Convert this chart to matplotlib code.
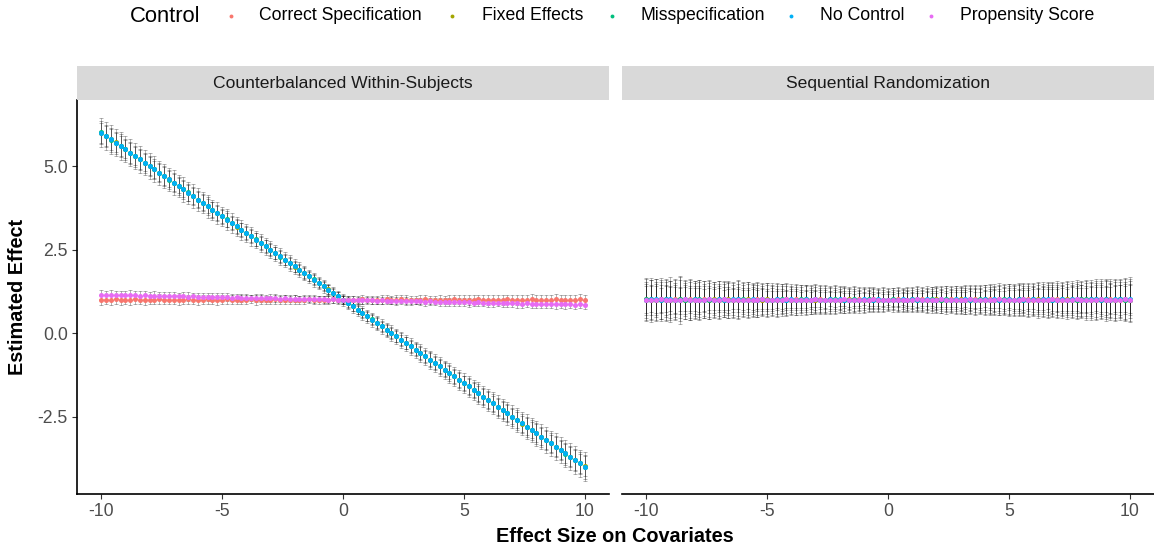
import matplotlib
matplotlib.use("Agg")
import matplotlib.pyplot as plt
from matplotlib.lines import Line2D
from matplotlib.patches import Rectangle

plt.rcParams['font.family'] = ['Liberation Sans', 'DejaVu Sans']

# ---------------- data ----------------
controls = ["Correct Specification", "Fixed Effects", "Misspecification", "No Control", "Propensity Score"]
colors = ["#F8766D", "#A3A500", "#00BF7D", "#00B0F6", "#E76BF3"]
panels = ["Counterbalanced Within-Subjects", "Sequential Randomization"]
x_ticks = [-10, -5, 0, 5, 10]
y_ticks = [-2.5, 0.0, 2.5, 5.0]
y_tick_labels = ["-2.5", "0.0", "2.5", "5.0"]

x_vals = [-10.0, -9.8, -9.6, -9.4, -9.2, -9.0, -8.8, -8.6, -8.4, -8.2,
          -8.0, -7.8, -7.6, -7.4, -7.2, -7.0, -6.8, -6.6, -6.4, -6.2,
          -6.0, -5.8, -5.6, -5.4, -5.2, -5.0, -4.8, -4.6, -4.4, -4.2,
          -4.0, -3.8, -3.6, -3.4, -3.2, -3.0, -2.8, -2.6, -2.4, -2.2,
          -2.0, -1.8, -1.6, -1.4, -1.2, -1.0, -0.8, -0.6, -0.4, -0.2,
          0.0,
          0.2, 0.4, 0.6, 0.8, 1.0, 1.2, 1.4, 1.6, 1.8, 2.0,
          2.2, 2.4, 2.6, 2.8, 3.0, 3.2, 3.4, 3.6, 3.8, 4.0,
          4.2, 4.4, 4.6, 4.8, 5.0, 5.2, 5.4, 5.6, 5.8, 6.0,
          6.2, 6.4, 6.6, 6.8, 7.0, 7.2, 7.4, 7.6, 7.8, 8.0,
          8.2, 8.4, 8.6, 8.8, 9.0, 9.2, 9.4, 9.6, 9.8, 10.0]

# Counterbalanced Within-Subjects panel
cw_nocontrol_est = [6.0, 5.9, 5.8, 5.7, 5.6, 5.5, 5.4, 5.3, 5.2, 5.1,
                    5.0, 4.9, 4.8, 4.7, 4.6, 4.5, 4.4, 4.3, 4.2, 4.1,
                    4.0, 3.9, 3.8, 3.7, 3.6, 3.5, 3.4, 3.3, 3.2, 3.1,
                    3.0, 2.9, 2.8, 2.7, 2.6, 2.5, 2.4, 2.3, 2.2, 2.1,
                    2.0, 1.9, 1.8, 1.7, 1.6, 1.5, 1.4, 1.3, 1.2, 1.1,
                    1.0,
                    0.9, 0.8, 0.7, 0.6, 0.5, 0.4, 0.3, 0.2, 0.1, 0.0,
                    -0.1, -0.2, -0.3, -0.4, -0.5, -0.6, -0.7, -0.8, -0.9, -1.0,
                    -1.1, -1.2, -1.3, -1.4, -1.5, -1.6, -1.7, -1.8, -1.9, -2.0,
                    -2.1, -2.2, -2.3, -2.4, -2.5, -2.6, -2.7, -2.8, -2.9, -3.0,
                    -3.1, -3.2, -3.3, -3.4, -3.5, -3.6, -3.7, -3.8, -3.9, -4.0]
cw_misspec_est = [6.01, 5.9, 5.79, 5.7, 5.61, 5.5, 5.4, 5.29, 5.2, 5.1,
                  5.0, 4.91, 4.8, 4.7, 4.59, 4.5, 4.4, 4.3, 4.21, 4.1,
                  4.0, 3.9, 3.8, 3.69, 3.6, 3.5, 3.41, 3.3, 3.2, 3.1,
                  3.0, 2.9, 2.81, 2.7, 2.6, 2.5, 2.4, 2.29, 2.2, 2.1,
                  2.0, 1.9, 1.8, 1.7, 1.61, 1.5, 1.4, 1.3, 1.2, 1.1,
                  1.0,
                  0.9, 0.8, 0.7, 0.6, 0.5, 0.41, 0.3, 0.2, 0.1, 0.0,
                  -0.1, -0.2, -0.31, -0.4, -0.5, -0.6, -0.7, -0.8, -0.9, -1.0,
                  -1.1, -1.2, -1.3, -1.4, -1.51, -1.6, -1.7, -1.8, -1.9, -2.0,
                  -2.1, -2.2, -2.3, -2.39, -2.5, -2.6, -2.7, -2.8, -2.9, -3.0,
                  -3.1, -3.2, -3.3, -3.4, -3.5, -3.61, -3.7, -3.8, -3.9, -4.01]
cw_fixed_est = [5.99, 5.9, 5.8, 5.71, 5.6, 5.5, 5.39, 5.3, 5.2, 5.1,
                5.01, 4.9, 4.8, 4.7, 4.6, 4.5, 4.41, 4.3, 4.2, 4.1,
                4.0, 3.91, 3.8, 3.7, 3.6, 3.5, 3.4, 3.3, 3.19, 3.1,
                3.0, 2.9, 2.8, 2.7, 2.61, 2.5, 2.4, 2.3, 2.2, 2.1,
                1.99, 1.9, 1.8, 1.7, 1.6, 1.5, 1.4, 1.31, 1.2, 1.1,
                1.0,
                0.9, 0.8, 0.7, 0.61, 0.5, 0.4, 0.3, 0.2, 0.1, 0.0,
                -0.1, -0.2, -0.3, -0.4, -0.5, -0.61, -0.7, -0.8, -0.9, -1.0,
                -1.1, -1.19, -1.3, -1.4, -1.5, -1.6, -1.7, -1.8, -1.9, -2.0,
                -2.1, -2.2, -2.3, -2.4, -2.5, -2.6, -2.71, -2.8, -2.9, -3.0,
                -3.1, -3.2, -3.3, -3.4, -3.5, -3.6, -3.7, -3.8, -3.9, -3.99]
cw_correct_est = [0.99, 1.00, 0.99, 1.01, 1.00, 0.99, 1.00, 1.01, 0.99, 1.00,
                  1.00, 0.99, 1.01, 1.00, 0.99, 1.00, 1.00, 0.99, 1.01, 1.00,
                  0.99, 1.00, 1.01, 1.00, 0.99, 1.00, 1.01, 1.00, 0.99, 1.00,
                  1.00, 1.01, 0.99, 1.00, 1.00, 0.99, 1.01, 1.00, 1.00, 0.99,
                  1.00, 1.00, 0.99, 1.01, 1.00, 1.00, 0.99, 1.00, 1.01, 1.00,
                  1.00,
                  1.00, 0.99, 1.00, 1.01, 1.00, 0.99, 1.00, 1.00, 1.01, 0.99,
                  1.00, 1.01, 1.00, 0.99, 1.00, 1.00, 1.01, 0.99, 1.00, 1.00,
                  0.99, 1.00, 1.01, 1.00, 1.00, 0.99, 1.00, 1.01, 1.00, 0.99,
                  1.00, 1.00, 0.99, 1.01, 1.00, 1.00, 0.99, 1.00, 1.01, 1.00,
                  0.99, 1.00, 1.00, 1.01, 0.99, 1.00, 1.00, 0.99, 1.01, 1.00]
cw_propensity_est = [1.15, 1.15, 1.14, 1.14, 1.15, 1.13, 1.14, 1.13, 1.12, 1.13,
                     1.12, 1.12, 1.11, 1.12, 1.10, 1.11, 1.10, 1.10, 1.09, 1.10,
                     1.09, 1.09, 1.08, 1.08, 1.07, 1.08, 1.07, 1.06, 1.07, 1.06,
                     1.06, 1.05, 1.06, 1.05, 1.04, 1.05, 1.04, 1.03, 1.04, 1.03,
                     1.03, 1.02, 1.03, 1.02, 1.01, 1.02, 1.01, 1.00, 1.01, 1.00,
                     1.00,
                     1.00, 0.99, 0.99, 0.98, 0.99, 0.98, 0.97, 0.98, 0.97, 0.97,
                     0.96, 0.97, 0.96, 0.95, 0.96, 0.95, 0.94, 0.95, 0.94, 0.94,
                     0.93, 0.94, 0.93, 0.92, 0.93, 0.92, 0.91, 0.92, 0.91, 0.91,
                     0.90, 0.91, 0.90, 0.89, 0.90, 0.89, 0.88, 0.89, 0.88, 0.88,
                     0.87, 0.88, 0.87, 0.86, 0.87, 0.86, 0.86, 0.85, 0.86, 0.85]

cw_nocontrol_err = [0.44, 0.41, 0.43, 0.40, 0.42, 0.39, 0.41, 0.38, 0.40, 0.37,
                    0.38, 0.39, 0.36, 0.37, 0.35, 0.37, 0.34, 0.36, 0.33, 0.35,
                    0.33, 0.31, 0.34, 0.30, 0.32, 0.29, 0.31, 0.30, 0.28, 0.30,
                    0.27, 0.28, 0.26, 0.27, 0.25, 0.26, 0.24, 0.25, 0.23, 0.24,
                    0.22, 0.23, 0.21, 0.20, 0.21, 0.19, 0.20, 0.18, 0.19, 0.17,
                    0.18,
                    0.18, 0.19, 0.18, 0.20, 0.19, 0.21, 0.20, 0.22, 0.21, 0.23,
                    0.22, 0.24, 0.23, 0.25, 0.24, 0.26, 0.25, 0.27, 0.26, 0.28,
                    0.27, 0.29, 0.28, 0.30, 0.29, 0.31, 0.30, 0.32, 0.31, 0.33,
                    0.32, 0.34, 0.33, 0.35, 0.34, 0.36, 0.35, 0.37, 0.36, 0.38,
                    0.37, 0.39, 0.38, 0.40, 0.39, 0.41, 0.40, 0.42, 0.41, 0.43]
cw_misspec_err = [0.35, 0.34, 0.36, 0.33, 0.34, 0.32, 0.33, 0.31, 0.32, 0.30,
                  0.31, 0.30, 0.29, 0.30, 0.28, 0.29, 0.27, 0.28, 0.26, 0.27,
                  0.26, 0.25, 0.26, 0.24, 0.25, 0.23, 0.24, 0.22, 0.23, 0.21,
                  0.22, 0.21, 0.20, 0.21, 0.19, 0.20, 0.18, 0.19, 0.17, 0.18,
                  0.17, 0.16, 0.17, 0.15, 0.16, 0.14, 0.15, 0.14, 0.15, 0.13,
                  0.14,
                  0.14, 0.15, 0.14, 0.16, 0.15, 0.16, 0.17, 0.16, 0.18, 0.17,
                  0.18, 0.19, 0.18, 0.20, 0.19, 0.21, 0.20, 0.22, 0.21, 0.22,
                  0.22, 0.23, 0.22, 0.24, 0.23, 0.25, 0.24, 0.26, 0.25, 0.27,
                  0.26, 0.27, 0.26, 0.28, 0.27, 0.29, 0.28, 0.30, 0.29, 0.31,
                  0.30, 0.31, 0.30, 0.32, 0.31, 0.33, 0.32, 0.34, 0.33, 0.35]
cw_fixed_err = [0.30, 0.29, 0.31, 0.28, 0.30, 0.27, 0.29, 0.27, 0.28, 0.26,
                0.27, 0.26, 0.25, 0.26, 0.24, 0.25, 0.23, 0.24, 0.23, 0.24,
                0.22, 0.23, 0.21, 0.22, 0.21, 0.20, 0.21, 0.19, 0.20, 0.19,
                0.19, 0.18, 0.19, 0.17, 0.18, 0.16, 0.17, 0.16, 0.15, 0.16,
                0.15, 0.14, 0.15, 0.13, 0.14, 0.13, 0.12, 0.13, 0.12, 0.12,
                0.12,
                0.12, 0.13, 0.12, 0.14, 0.13, 0.14, 0.15, 0.14, 0.15, 0.15,
                0.16, 0.15, 0.17, 0.16, 0.17, 0.18, 0.17, 0.19, 0.18, 0.19,
                0.19, 0.20, 0.19, 0.21, 0.20, 0.22, 0.21, 0.22, 0.21, 0.23,
                0.22, 0.24, 0.23, 0.24, 0.23, 0.25, 0.24, 0.26, 0.25, 0.27,
                0.26, 0.27, 0.26, 0.28, 0.27, 0.29, 0.28, 0.29, 0.28, 0.30]
cw_correct_err = [0.15, 0.14, 0.16, 0.14, 0.15, 0.13, 0.15, 0.14, 0.13, 0.15,
                  0.14, 0.13, 0.15, 0.14, 0.13, 0.14, 0.15, 0.13, 0.14, 0.13,
                  0.14, 0.13, 0.14, 0.12, 0.14, 0.13, 0.14, 0.13, 0.12, 0.14,
                  0.13, 0.12, 0.14, 0.13, 0.12, 0.13, 0.14, 0.12, 0.13, 0.12,
                  0.13, 0.12, 0.13, 0.12, 0.13, 0.12, 0.12, 0.13, 0.12, 0.12,
                  0.12,
                  0.12, 0.13, 0.12, 0.13, 0.12, 0.13, 0.12, 0.13, 0.12, 0.13,
                  0.13, 0.12, 0.14, 0.13, 0.12, 0.13, 0.14, 0.13, 0.12, 0.14,
                  0.13, 0.14, 0.13, 0.14, 0.13, 0.15, 0.13, 0.14, 0.13, 0.14,
                  0.14, 0.13, 0.15, 0.14, 0.13, 0.15, 0.14, 0.13, 0.15, 0.14,
                  0.15, 0.14, 0.13, 0.15, 0.14, 0.15, 0.13, 0.14, 0.15, 0.14]
cw_propensity_err = [0.13, 0.12, 0.14, 0.13, 0.12, 0.13, 0.14, 0.12, 0.13, 0.12,
                     0.12, 0.13, 0.12, 0.11, 0.13, 0.12, 0.11, 0.12, 0.13, 0.11,
                     0.12, 0.11, 0.12, 0.11, 0.12, 0.11, 0.12, 0.11, 0.10, 0.12,
                     0.11, 0.10, 0.12, 0.11, 0.10, 0.11, 0.12, 0.10, 0.11, 0.10,
                     0.11, 0.10, 0.11, 0.10, 0.11, 0.10, 0.10, 0.11, 0.10, 0.10,
                     0.10,
                     0.10, 0.11, 0.10, 0.11, 0.10, 0.11, 0.10, 0.11, 0.10, 0.11,
                     0.11, 0.10, 0.12, 0.11, 0.10, 0.11, 0.12, 0.11, 0.10, 0.12,
                     0.11, 0.12, 0.11, 0.12, 0.11, 0.13, 0.11, 0.12, 0.11, 0.12,
                     0.12, 0.11, 0.13, 0.12, 0.11, 0.13, 0.12, 0.11, 0.13, 0.12,
                     0.13, 0.12, 0.11, 0.13, 0.12, 0.13, 0.12, 0.13, 0.12, 0.13]

# Sequential Randomization panel
sr_correct_est = [1.01, 0.99, 1.00, 1.02, 0.99, 1.00, 1.01, 0.98, 1.00, 1.01,
                  0.99, 1.00, 1.01, 1.00, 0.99, 1.01, 1.00, 0.99, 1.00, 1.01,
                  1.00, 0.99, 1.00, 1.01, 1.00, 0.99, 1.00, 1.01, 1.00, 0.99,
                  1.00, 1.01, 1.00, 0.99, 1.00, 1.00, 1.01, 1.00, 0.99, 1.00,
                  1.00, 1.00, 0.99, 1.00, 1.01, 1.00, 1.00, 0.99, 1.00, 1.00,
                  1.00,
                  1.00, 1.01, 1.00, 1.00, 0.99, 1.00, 1.01, 1.00, 1.00, 0.99,
                  1.00, 1.00, 1.01, 1.00, 0.99, 1.00, 1.00, 1.01, 1.00, 0.99,
                  1.01, 1.00, 0.99, 1.00, 1.01, 1.00, 0.99, 1.00, 1.01, 1.00,
                  0.99, 1.01, 1.00, 0.99, 1.01, 1.00, 0.99, 1.01, 1.00, 1.02,
                  1.00, 0.99, 1.01, 1.00, 0.98, 1.01, 1.00, 0.99, 1.02, 1.00]
sr_fixed_est = [0.99, 1.01, 1.00, 0.98, 1.01, 1.00, 0.99, 1.02, 1.00, 0.99,
                1.01, 1.00, 0.99, 1.00, 1.01, 0.99, 1.00, 1.01, 1.00, 0.99,
                1.00, 1.01, 1.00, 0.99, 1.00, 1.01, 1.00, 0.99, 1.00, 1.01,
                1.00, 0.99, 1.00, 1.01, 1.00, 1.00, 0.99, 1.00, 1.01, 1.00,
                1.00, 1.00, 1.01, 1.00, 0.99, 1.00, 1.00, 1.01, 1.00, 1.00,
                1.00,
                1.00, 0.99, 1.00, 1.00, 1.01, 1.00, 0.99, 1.00, 1.00, 1.01,
                1.00, 1.00, 0.99, 1.00, 1.01, 1.00, 1.00, 0.99, 1.00, 1.01,
                0.99, 1.00, 1.01, 1.00, 0.99, 1.00, 1.01, 1.00, 0.99, 1.00,
                1.01, 0.99, 1.00, 1.01, 0.99, 1.00, 1.01, 0.99, 1.00, 0.98,
                1.00, 1.01, 0.99, 1.00, 1.02, 0.99, 1.00, 1.01, 0.98, 1.00]
sr_misspec_est = [1.02, 1.00, 0.99, 1.01, 1.00, 0.98, 1.00, 1.01, 0.99, 1.00,
                  1.00, 1.01, 1.00, 0.99, 1.00, 1.00, 1.01, 1.00, 0.99, 1.00,
                  1.01, 1.00, 0.99, 1.00, 1.01, 1.00, 0.99, 1.00, 1.01, 1.00,
                  0.99, 1.00, 1.01, 1.00, 0.99, 1.01, 1.00, 1.00, 1.00, 1.01,
                  1.00, 0.99, 1.00, 1.01, 1.00, 1.00, 1.01, 1.00, 0.99, 1.00,
                  1.00,
                  1.01, 1.00, 0.99, 1.00, 1.00, 1.01, 1.00, 0.99, 1.01, 1.00,
                  0.99, 1.01, 1.00, 1.00, 1.00, 0.99, 1.01, 1.00, 1.01, 1.00,
                  1.00, 0.99, 1.00, 1.01, 1.00, 0.99, 1.00, 1.01, 1.00, 1.01,
                  1.00, 1.00, 0.99, 1.00, 1.00, 1.01, 1.00, 1.00, 0.99, 1.01,
                  1.01, 1.00, 0.99, 1.01, 1.00, 1.00, 0.99, 1.01, 1.00, 0.99]
sr_nocontrol_est = [1.00, 1.02, 1.01, 0.99, 1.01, 1.02, 0.99, 1.00, 1.02, 1.00,
                    1.01, 0.99, 1.00, 1.02, 1.00, 1.01, 0.99, 1.00, 1.01, 1.02,
                    0.99, 1.00, 1.01, 1.00, 1.02, 1.00, 0.99, 1.01, 1.00, 1.00,
                    1.01, 1.00, 0.99, 1.01, 1.00, 1.01, 1.00, 0.99, 1.01, 1.00,
                    1.01, 1.00, 1.00, 0.99, 1.00, 1.01, 1.00, 1.00, 1.01, 0.99,
                    1.00,
                    0.99, 1.00, 1.01, 1.00, 1.01, 0.99, 1.00, 1.01, 1.00, 1.00,
                    1.01, 1.00, 1.00, 1.01, 0.99, 1.01, 1.00, 1.00, 0.99, 1.01,
                    1.00, 1.01, 1.00, 0.99, 1.01, 1.00, 1.01, 0.99, 1.00, 1.01,
                    1.00, 1.01, 1.02, 1.00, 0.99, 1.01, 1.00, 1.02, 1.01, 1.00,
                    0.99, 1.01, 1.02, 1.00, 1.01, 0.99, 1.02, 1.03, 1.01, 1.02]
sr_propensity_est = [1.00, 0.99, 1.00, 1.01, 0.99, 1.00, 1.00, 0.99, 1.01, 1.00,
                     0.99, 1.00, 1.00, 1.01, 0.99, 1.00, 1.01, 1.00, 0.99, 1.00,
                     1.00, 1.00, 0.99, 1.00, 1.01, 1.00, 1.00, 0.99, 1.00, 1.01,
                     1.00, 1.00, 1.00, 0.99, 1.00, 1.01, 1.00, 1.00, 0.99, 1.00,
                     1.00, 1.01, 1.00, 1.00, 0.99, 1.00, 1.00, 1.01, 1.00, 1.00,
                     1.00,
                     1.00, 1.00, 0.99, 1.00, 1.00, 1.01, 1.00, 1.00, 0.99, 1.00,
                     1.01, 1.00, 1.00, 0.99, 1.00, 1.00, 1.01, 1.00, 1.00, 0.99,
                     1.00, 1.00, 1.01, 1.00, 0.99, 1.00, 1.00, 1.01, 1.00, 1.00,
                     0.99, 1.00, 1.00, 1.01, 1.00, 0.99, 1.00, 1.00, 1.01, 1.00,
                     1.00, 0.99, 1.00, 1.01, 1.00, 1.00, 0.99, 1.00, 1.01, 1.00]

sr_correct_err = [0.46, 0.44, 0.47, 0.43, 0.45, 0.42, 0.44, 0.41, 0.43, 0.40,
                  0.41, 0.42, 0.39, 0.40, 0.38, 0.39, 0.37, 0.38, 0.36, 0.37,
                  0.36, 0.35, 0.37, 0.34, 0.35, 0.33, 0.34, 0.32, 0.33, 0.31,
                  0.32, 0.31, 0.30, 0.31, 0.29, 0.30, 0.28, 0.29, 0.27, 0.28,
                  0.27, 0.26, 0.27, 0.25, 0.26, 0.24, 0.25, 0.23, 0.24, 0.23,
                  0.22,
                  0.23, 0.24, 0.23, 0.25, 0.24, 0.26, 0.25, 0.27, 0.26, 0.27,
                  0.28, 0.27, 0.29, 0.28, 0.30, 0.29, 0.31, 0.30, 0.32, 0.31,
                  0.32, 0.33, 0.32, 0.34, 0.33, 0.35, 0.34, 0.36, 0.35, 0.37,
                  0.36, 0.38, 0.37, 0.39, 0.38, 0.40, 0.39, 0.41, 0.40, 0.42,
                  0.41, 0.43, 0.42, 0.44, 0.43, 0.45, 0.44, 0.46, 0.45, 0.47]
sr_fixed_err = [0.55, 0.58, 0.53, 0.56, 0.52, 0.55, 0.51, 0.57, 0.50, 0.53,
                0.50, 0.52, 0.48, 0.51, 0.47, 0.49, 0.46, 0.48, 0.45, 0.47,
                0.44, 0.46, 0.43, 0.45, 0.42, 0.43, 0.41, 0.42, 0.40, 0.41,
                0.38, 0.40, 0.37, 0.39, 0.36, 0.37, 0.35, 0.36, 0.34, 0.35,
                0.32, 0.34, 0.31, 0.33, 0.30, 0.31, 0.29, 0.30, 0.28, 0.29,
                0.27,
                0.28, 0.29, 0.28, 0.30, 0.29, 0.31, 0.30, 0.32, 0.31, 0.33,
                0.33, 0.34, 0.33, 0.35, 0.34, 0.36, 0.35, 0.37, 0.36, 0.38,
                0.39, 0.38, 0.40, 0.39, 0.41, 0.40, 0.42, 0.41, 0.43, 0.42,
                0.44, 0.43, 0.45, 0.44, 0.46, 0.45, 0.47, 0.46, 0.48, 0.47,
                0.50, 0.49, 0.51, 0.50, 0.53, 0.51, 0.54, 0.52, 0.55, 0.56]
sr_misspec_err = [0.62, 0.60, 0.64, 0.59, 0.63, 0.58, 0.61, 0.66, 0.57, 0.60,
                  0.56, 0.58, 0.55, 0.57, 0.53, 0.55, 0.52, 0.54, 0.51, 0.58,
                  0.50, 0.52, 0.49, 0.51, 0.47, 0.49, 0.46, 0.48, 0.45, 0.47,
                  0.43, 0.45, 0.42, 0.44, 0.41, 0.42, 0.40, 0.41, 0.39, 0.40,
                  0.37, 0.38, 0.36, 0.37, 0.35, 0.36, 0.34, 0.35, 0.33, 0.34,
                  0.32,
                  0.33, 0.34, 0.33, 0.35, 0.34, 0.36, 0.35, 0.37, 0.36, 0.38,
                  0.38, 0.39, 0.38, 0.40, 0.39, 0.41, 0.40, 0.42, 0.41, 0.43,
                  0.44, 0.43, 0.45, 0.44, 0.46, 0.45, 0.47, 0.46, 0.48, 0.47,
                  0.49, 0.48, 0.50, 0.49, 0.51, 0.50, 0.52, 0.51, 0.53, 0.52,
                  0.55, 0.54, 0.56, 0.55, 0.58, 0.56, 0.60, 0.57, 0.61, 0.62]
sr_nocontrol_err = [0.40, 0.38, 0.41, 0.37, 0.39, 0.36, 0.38, 0.35, 0.37, 0.34,
                    0.35, 0.36, 0.33, 0.34, 0.32, 0.33, 0.31, 0.32, 0.30, 0.31,
                    0.30, 0.29, 0.31, 0.28, 0.29, 0.27, 0.28, 0.26, 0.27, 0.25,
                    0.26, 0.25, 0.24, 0.25, 0.23, 0.24, 0.22, 0.23, 0.21, 0.22,
                    0.21, 0.20, 0.21, 0.19, 0.20, 0.18, 0.19, 0.18, 0.19, 0.17,
                    0.17,
                    0.18, 0.19, 0.18, 0.20, 0.19, 0.20, 0.19, 0.21, 0.20, 0.21,
                    0.22, 0.21, 0.23, 0.22, 0.24, 0.23, 0.25, 0.24, 0.25, 0.24,
                    0.26, 0.27, 0.26, 0.28, 0.27, 0.29, 0.28, 0.30, 0.29, 0.30,
                    0.31, 0.32, 0.31, 0.33, 0.32, 0.34, 0.33, 0.35, 0.34, 0.36,
                    0.36, 0.37, 0.36, 0.38, 0.37, 0.39, 0.38, 0.40, 0.39, 0.41]
sr_propensity_err = [0.63, 0.66, 0.61, 0.65, 0.60, 0.68, 0.59, 0.72, 0.58, 0.62,
                     0.58, 0.60, 0.56, 0.59, 0.55, 0.57, 0.54, 0.56, 0.53, 0.55,
                     0.52, 0.54, 0.51, 0.53, 0.50, 0.51, 0.49, 0.50, 0.48, 0.49,
                     0.46, 0.47, 0.45, 0.46, 0.44, 0.45, 0.43, 0.44, 0.42, 0.43,
                     0.40, 0.41, 0.39, 0.40, 0.38, 0.39, 0.37, 0.38, 0.36, 0.37,
                     0.35,
                     0.36, 0.37, 0.36, 0.38, 0.37, 0.39, 0.38, 0.40, 0.39, 0.41,
                     0.41, 0.42, 0.41, 0.43, 0.42, 0.44, 0.43, 0.45, 0.44, 0.46,
                     0.47, 0.46, 0.48, 0.47, 0.49, 0.48, 0.50, 0.49, 0.51, 0.50,
                     0.53, 0.52, 0.54, 0.53, 0.55, 0.54, 0.57, 0.55, 0.58, 0.56,
                     0.60, 0.59, 0.61, 0.60, 0.63, 0.61, 0.64, 0.62, 0.65, 0.67]

cw_series = [(cw_correct_est, cw_correct_err), (cw_fixed_est, cw_fixed_err),
             (cw_misspec_est, cw_misspec_err), (cw_nocontrol_est, cw_nocontrol_err),
             (cw_propensity_est, cw_propensity_err)]
sr_series = [(sr_correct_est, sr_correct_err), (sr_fixed_est, sr_fixed_err),
             (sr_misspec_est, sr_misspec_err), (sr_nocontrol_est, sr_nocontrol_err),
             (sr_propensity_est, sr_propensity_err)]

# ---------------- figure ----------------
W, H = 1154, 548
fig = plt.figure(figsize=(W / 100, H / 100), dpi=100)
fig.patch.set_facecolor("white")


def rect(l, t, r, b):
    return [l / W, 1 - b / H, (r - l) / W, (b - t) / H]


ax1 = fig.add_axes(rect(77, 100, 609, 494))
ax2 = fig.add_axes(rect(622, 100, 1154, 494), sharey=ax1)

TICK_GRAY = "#4D4D4D"
for ax, series, title, (sl, sr_) in [(ax1, cw_series, panels[0], (77, 609)),
                                     (ax2, sr_series, panels[1], (622, 1154))]:
    for est, err in series:
        ax.errorbar(x_vals, est, yerr=err, fmt="none", ecolor=(0, 0, 0, 0.38),
                    elinewidth=0.55, capsize=1.1, capthick=0.55, zorder=2)
    for (est, err), c in zip(series, colors):
        ax.scatter(x_vals, est, s=13, color=c, linewidths=0, zorder=3)
    ax.set_xlim(-11, 11)
    ax.set_ylim(-4.82, 6.98)
    ax.set_xticks(x_ticks)
    ax.set_xticklabels([str(t) for t in x_ticks])
    for s in ["top", "right"]:
        ax.spines[s].set_visible(False)
    ax.spines["bottom"].set_linewidth(1.2)
    ax.spines["left"].set_linewidth(1.2)
    ax.tick_params(axis="both", colors="#333333", labelcolor=TICK_GRAY,
                   labelsize=12.7, length=3.5, width=0.8, pad=3)
    ax.set_facecolor("white")
    # strip
    fig.patches.append(Rectangle((sl / W, 1 - 100 / H), (sr_ - sl) / W, 34 / H,
                                 transform=fig.transFigure, facecolor="#D9D9D9",
                                 edgecolor="none", zorder=0))
    fig.text((sl + sr_) / 2 / W, 1 - 83 / H, title, ha="center", va="center",
             fontsize=12.6, color="#1A1A1A")

ax1.set_yticks(y_ticks)
ax1.set_yticklabels(y_tick_labels)
ax2.spines["left"].set_visible(False)
ax2.tick_params(axis="y", left=False, labelleft=False)

fig.text(615 / W, 1 - 537 / H, "Effect Size on Covariates", ha="center", va="center",
         fontsize=14.3, fontweight="bold", color="black")
fig.text(18 / W, 1 - 297 / H, "Estimated Effect", ha="center", va="center",
         rotation=90, fontsize=14.3, fontweight="bold", color="black")

# legend
ly = 1 - 16 / H
fig.text(130 / W, ly, "Control", ha="left", va="center", fontsize=15.8, color="black")
dot_x = [231, 452, 612, 791, 931]
txt_x = [259, 482, 641, 820, 960]
for name, c, dx, tx in zip(controls, colors, dot_x, txt_x):
    fig.add_artist(Line2D([dx / W], [ly], marker="o", markersize=2.8, color=c,
                          markeredgewidth=0, linestyle="none", transform=fig.transFigure))
    fig.text(tx / W, ly, name, ha="left", va="center", fontsize=12.7, color="black")

fig.savefig("out.png", dpi=100)
